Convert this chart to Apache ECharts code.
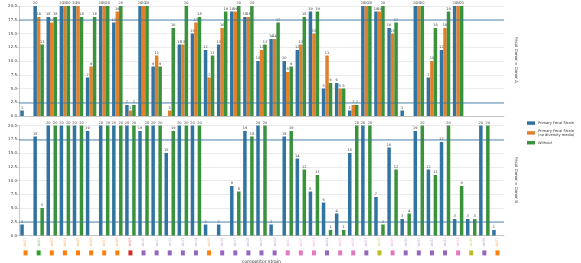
<!DOCTYPE html>
<html><head><meta charset="utf-8">
<script src="https://cdn.jsdelivr.net/npm/echarts@6/dist/echarts.min.js"></script>
<style>html,body{margin:0;padding:0;background:#fff}#c{width:581px;height:263px}</style>
</head><body><div id="c"></div>
<script>
const categories = ["str01","str02","str03","str04","str05","str06","str07","str08","str09","str10","str11","str12","str13","str14","str15","str16","str17","str18","str19","str20","str21","str22","str23","str24","str25","str26","str27","str28","str29","str30","str31","str32","str33","str34","str35","str36","str37"];
const categoryGroups = ["o","g","o","o","o","o","o","o","r","p","p","p","p","p","o","p","p","p","p","p","k","k","k","p","k","k","p","y","k","p","p","p","p","k","y","p","o"];
const seriesNames = ["Primary Fecal Strain","Primary Fecal Strain\n(no diversity media)","Without"];
const facetTitles = ["Fecal Donor = Donor A","Fecal Donor = Donor B"];
const yTicks = [0,2.5,5,7.5,10,12.5,15,17.5,20];
const refLines = [2.5,17.5];
const blueTop = [1,20,18,20,20,7,20,17,2,20,9,null,13,15,12,13,19,18,10,14,10,12,19,5,6,1,20,19,16,1,20,7,12,20,null,null,null];
const orangeTop = [null,18,17,20,20,9,20,19,1,20,11,1,13,17,7,16,19,18,12,14,8,13,15,11,5,2,20,19,15,null,20,10,16,20,null,null,null];
const greenTop = [null,13,18,20,18,18,20,20,2,20,9,16,20,18,11,19,20,20,13,17,9,18,19,6,5,2,20,20,17,null,20,16,19,20,null,null,null];
const blueBot = [2,18,20,20,20,19,20,20,20,19,20,15,20,20,2,2,9,19,20,2,18,14,8,6,4,15,20,7,16,3,19,12,17,3,3,20,1];
const orangeBot = categories.map(() => null);
const greenBot = [null,5,20,20,20,null,20,20,20,20,20,19,20,20,null,null,8,18,20,null,19,12,11,1,1,20,20,2,12,4,20,11,20,9,3,20,null];

const colors = ['#3274a1','#e1812c','#3a923a'];
const groupColors = {o:'#ff7f0e',g:'#2ca02c',r:'#d62728',p:'#9467bd',k:'#e377c2',y:'#bcbd22'};
const font = 'DejaVu Sans';
const rich = {};
Object.keys(groupColors).forEach(k => {
  rich['s'+k] = {backgroundColor: groupColors[k], width: 5, height: 4};
  rich['t'+k] = {color: groupColors[k], opacity: 0.6, fontSize: 3.5, fontFamily: font};
});

function yAxis(gi) {
  return {
    gridIndex: gi, type: 'value', min: 0, max: 20, interval: 2.5,
    name: 'count', nameLocation: 'middle', nameGap: 14,
    nameTextStyle: {fontSize: 4.5, color: '#333', fontFamily: font},
    axisLine: {show: true, lineStyle: {color: '#bbb', width: 0.8}},
    axisTick: {show: true, length: 2, lineStyle: {color: '#bbb', width: 0.6}},
    axisLabel: {fontSize: 4, color: '#444', margin: 2, fontFamily: font, formatter: v => v.toFixed(1)},
    splitLine: {show: true, lineStyle: {color: '#e6e6e6', width: 0.8}}
  };
}
function bar(name, data, ci, gi, withMark) {
  const s = {
    name, type: 'bar', data, xAxisIndex: gi, yAxisIndex: gi,
    barGap: '0%', barCategoryGap: '20%',
    itemStyle: {color: colors[ci]},
    label: {show: true, position: 'top', distance: 0.5, fontSize: 3.5, color: '#444', fontFamily: font},
    emphasis: {disabled: true}, animation: false
  };
  if (withMark) {
    s.markLine = {silent: true, symbol: 'none', label: {show: false},
      lineStyle: {color: '#3274a1', width: 1.5, type: 'solid', opacity: 0.55},
      data: refLines.map(v => ({yAxis: v}))};
  }
  return s;
}
const option = {
  animation: false,
  textStyle: {fontFamily: font},
  color: colors,
  grid: [
    {left: 19, width: 485, top: 6, height: 110, containLabel: false, outerBoundsMode: 'none'},
    {left: 19, width: 485, top: 125.5, height: 110, containLabel: false, outerBoundsMode: 'none'}
  ],
  xAxis: [
    {gridIndex: 0, type: 'category', data: categories,
     axisLine: {lineStyle: {color: '#bbb', width: 0.8}},
     axisTick: {alignWithLabel: true, length: 2, lineStyle: {color: '#bbb', width: 0.6}},
     axisLabel: {show: false}},
    {gridIndex: 1, type: 'category', data: categories,
     name: 'competitor strain', nameLocation: 'middle', nameGap: 21,
     nameTextStyle: {fontSize: 4.5, color: '#333', fontFamily: font},
     axisLine: {lineStyle: {color: '#bbb', width: 0.8}},
     axisTick: {alignWithLabel: true, length: 2, lineStyle: {color: '#bbb', width: 0.6}},
     axisLabel: {interval: 0, rotate: 90, margin: 2, rich,
       formatter: (v, i) => '{s' + categoryGroups[i] + '|} {t' + categoryGroups[i] + '|' + v + '}'}}
  ],
  yAxis: [yAxis(0), yAxis(1)],
  legend: {
    orient: 'vertical', left: 527, top: 121, padding: 0, itemWidth: 8, itemHeight: 3.5, itemGap: 3.5,
    icon: 'rect', data: seriesNames,
    textStyle: {fontSize: 3.6, color: '#333', fontFamily: font, lineHeight: 4.2, padding: [0,0,0,-2]}
  },
  graphic: [
    {type: 'text', x: 516, y: 60, rotation: -Math.PI/2,
     style: {text: facetTitles[0], fontSize: 4, fill: '#333', fontFamily: font, align: 'center', verticalAlign: 'middle'}},
    {type: 'text', x: 516, y: 180, rotation: -Math.PI/2,
     style: {text: facetTitles[1], fontSize: 4, fill: '#333', fontFamily: font, align: 'center', verticalAlign: 'middle'}}
  ],
  series: [
    bar(seriesNames[0], blueTop, 0, 0, true),
    bar(seriesNames[1], orangeTop, 1, 0, false),
    bar(seriesNames[2], greenTop, 2, 0, false),
    bar(seriesNames[0], blueBot, 0, 1, true),
    bar(seriesNames[1], orangeBot, 1, 1, false),
    bar(seriesNames[2], greenBot, 2, 1, false)
  ]
};
const chart = echarts.init(document.getElementById('c'), null, {renderer: 'canvas'});
chart.setOption(option);
</script></body></html>
